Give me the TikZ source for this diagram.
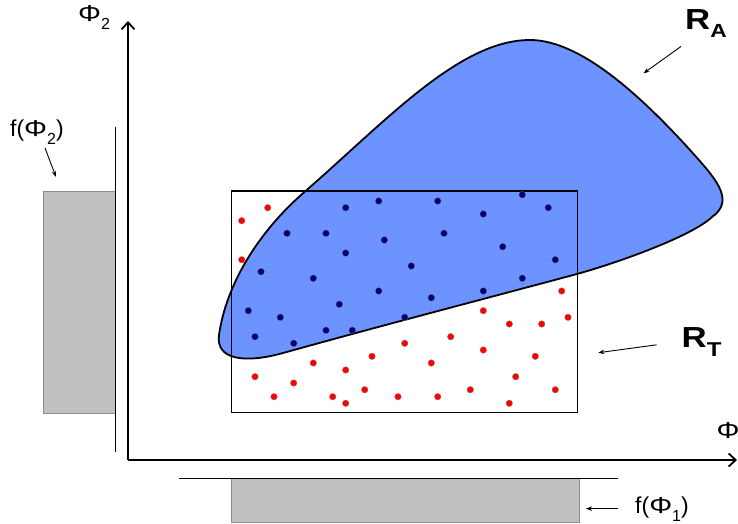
\documentclass[tikz,border=0pt]{standalone}
\usepackage{fontspec}
\usepackage{graphicx}
\setmainfont{Liberation Sans}
\usetikzlibrary{arrows.meta}
\definecolor{regionblue}{RGB}{108,147,255}
\definecolor{boxgray}{RGB}{192,192,192}
\definecolor{dotnavy}{RGB}{0,0,120}
\newcommand{\dropsub}[3]{\raisebox{-#1}{\fontsize{#2}{#2}\selectfont #3}}
\newcommand{\widebold}[1]{\scalebox{1.2}[1]{#1}}
\newcommand{\widephi}{\scalebox{1.25}[1]{Φ}}
\tikzset{
  axisline/.style={line width=1.8pt, -{Straight Barb[length=7pt,width=13pt]}},
  txtlabel/.style={font=\fontsize{23}{24}\selectfont, inner sep=0pt, anchor=base west},
  biglabel/.style={font=\fontsize{29}{30}\selectfont\bfseries, inner sep=0pt, anchor=base west},
  pointer/.style={line width=0.9pt, -{Stealth[length=6pt,width=4.5pt]}},
  bluedot/.style={fill=dotnavy, draw=black!60, line width=0.3pt},
  reddot/.style={fill=red, draw=black!50, line width=0.3pt},
  margin/.style={fill=boxgray, draw=black!45, line width=0.6pt},
}
\begin{document}
\begin{tikzpicture}[x=1pt,y=-1pt]
\useasboundingbox (0,0) rectangle (738,524);
% region R_A
\filldraw[fill=regionblue, draw=black, line width=1.8pt]
  (530,40) .. controls (580,40) and (640,95) .. (690,150)
  .. controls (715,178) and (736,200) .. (712,217)
  .. controls (692,236) and (620,262) .. (577,274)
  .. controls (480,300) and (380,326) .. (283,353)
  .. controls (245,363.6) and (215.5,360) .. (219,335)
  .. controls (226,285) and (258,232) .. (305,191.5)
  .. controls (388,119) and (460,40) .. cycle;
% region R_T
\draw[line width=1.5pt] (231.7,191) rectangle (577.7,412.7);
% samples
\foreach \x/\y in {345.7/207.7, 378.7/201, 437.7/201, 483.3/214, 522.3/194.7,
  548.3/207.7, 287/233.3, 326/233.3, 384.3/240, 444/233.3, 345.7/253,
  502.7/246.7, 555.3/259.7, 411.3/266, 261/271.7, 313.3/278.3, 522.3/278.3,
  378.7/291, 431.3/297.7, 483.3/291, 248.3/310.7, 339.3/304.3, 280.3/317.3,
  404.7/317.3, 255/336.7, 326/330.3, 352.3/330.3, 293.7/343.3}
  \filldraw[bluedot] (\x,\y) circle (3.4);
\foreach \x/\y in {267.7/207.7, 241.7/220.7, 241.7/259.7, 561.7/291, 483.3/310.7,
  568/317.3, 509.3/324, 541.7/324, 450.7/336.7, 404.7/343.3, 483.3/350,
  372/356.3, 535.3/356.3, 313.3/363, 431.3/363, 345.7/370, 255/376.7,
  515.7/376.7, 293.7/383, 274/396.7, 332.7/396.7, 364.7/389.7, 398/396.7,
  437.7/396.7, 470.3/389.7, 555.3/389.7, 345.7/403.3, 509.3/403.3}
  \filldraw[reddot] (\x,\y) circle (3.3);
% axes
\coordinate (origin) at (128,460);
\coordinate (xend) at (737,460);
\coordinate (yend) at (128,21);
\draw[axisline] (origin) -- (xend);
\draw[axisline] (origin) -- (yend);
\node[txtlabel] (phione) at (716.5,438) {\widephi\dropsub{8pt}{16}{1}};
\node[txtlabel] (phitwo) at (78,21.7) {\widephi\dropsub{8pt}{16}{2}};
% marginal distributions
\filldraw[margin] (43.3,191.7) rectangle (115.3,413.3);
\draw[line width=0.8pt] (115.3,126.7) -- (115.3,451.7);
\filldraw[margin] (231.7,478.5) rectangle (579.7,522.7);
\draw[line width=0.8pt] (179.3,478.5) -- (618,478.5);
\node[txtlabel] (fphitwo) at (10,136.7) {f(\widephi\dropsub{8pt}{16}{2})};
\node[txtlabel] (fphione) at (635,513) {f(\widephi\dropsub{8pt}{16}{1})};
\coordinate (fphitwotip) at (56,177);
\coordinate (fphionetip) at ([xshift=-49pt]fphione.west);
\draw[pointer] ([xshift=8pt,yshift=-3pt]fphitwo.south) -- (fphitwotip);
\draw[pointer] ([xshift=-17pt]fphione.west) -- (fphionetip);
% region labels
\node[biglabel] (ra) at (685,29.3) {\widebold{R\dropsub{8pt}{19}{A}}};
\node[biglabel] (rt) at (681.5,347.3) {\widebold{R\dropsub{9pt}{20}{T}}};
\coordinate (ratip) at (643.5,73.3);
\coordinate (rttip) at (598.3,352.7);
\draw[pointer] ([xshift=-4pt,yshift=-9pt]ra.south west) -- (ratip);
\draw[pointer] ([xshift=-25pt,yshift=-3pt]rt.west) -- (rttip);
\end{tikzpicture}
\end{document}
